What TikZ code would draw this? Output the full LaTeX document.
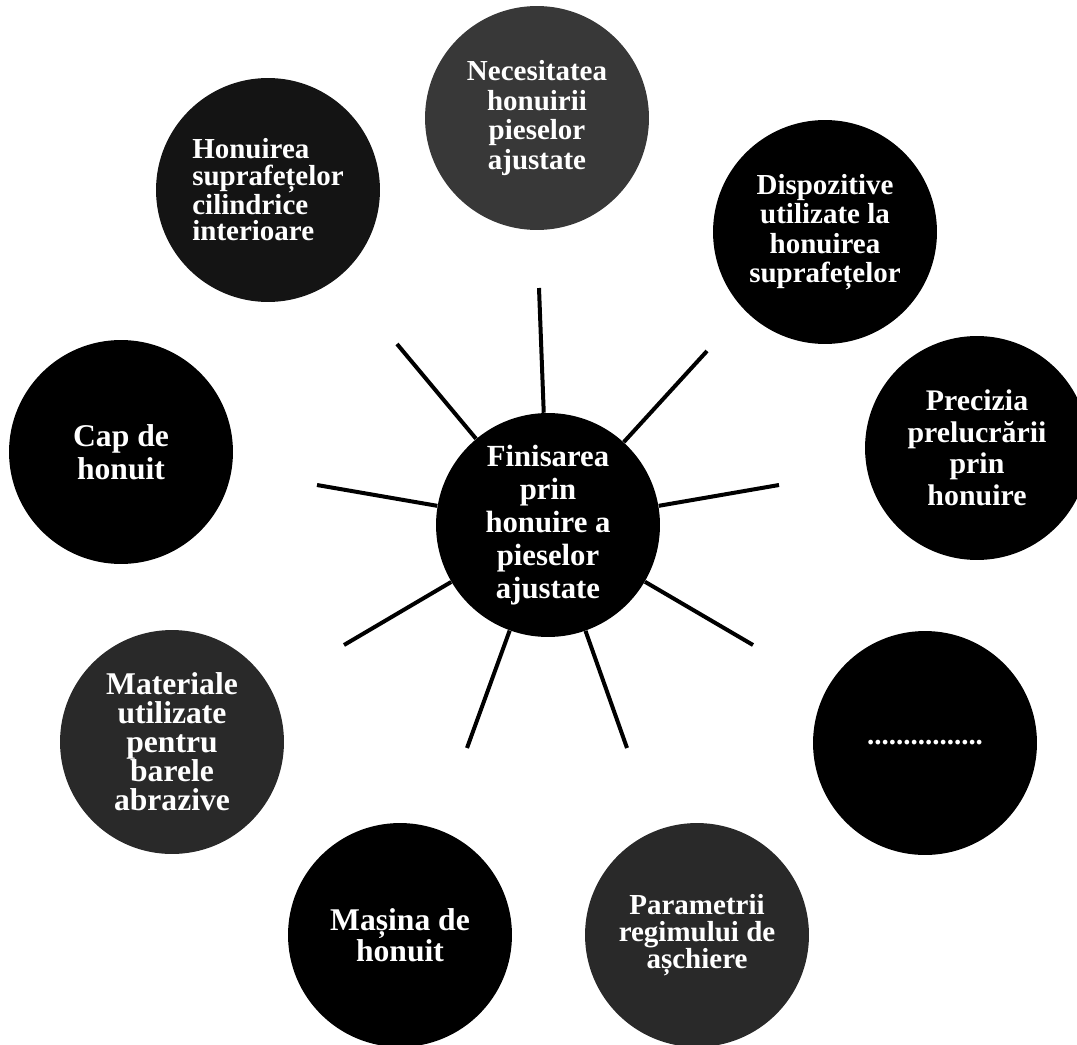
\documentclass[tikz,border=0pt]{standalone}
\usepackage{fontspec}
\setmainfont{Liberation Serif}
\tikzset{
  bubble/.style={circle, fill=black, text=white, minimum size=4.48cm, inner sep=0pt,
    align=center, font=\bfseries\fontsize{16.5}{16.8}\selectfont},
  ray/.style={line width=0.08cm},
}
\begin{document}
\begin{tikzpicture}[x=0.02cm, y=-0.02cm]
  \useasboundingbox (0,0) rectangle (1077,1044);

  \node [bubble, font=\bfseries\fontsize{17.5}{18.8}\selectfont] (c) at (548,525)
    {Finisarea\\prin\\honuire a\\pieselor\\ajustate};

  \node [bubble, fill=black!78] (1) at (537,118) {Necesitatea\\honuirii\\pieselor\\ajustate};
  \node [bubble, fill=black!92, align=left, font=\bfseries\fontsize{16.5}{15}\selectfont] (2) at (268,190)
    {Honuirea\\suprafețelor\\cilindrice\\interioare};
  \node [bubble] (3) at (825,232) {Dispozitive\\utilizate la\\honuirea\\suprafețelor};
  \node [bubble, font=\bfseries\fontsize{18}{18.5}\selectfont] (4) at (121,452) {Cap de\\honuit};
  \node [bubble, font=\bfseries\fontsize{17}{18}\selectfont] (5) at (977,448)
    {Precizia\\prelucrării\\prin\\honuire};
  \node [bubble, fill=black!84, font=\bfseries\fontsize{18}{16.5}\selectfont] (6) at (172,742)
    {Materiale\\utilizate\\pentru\\barele\\abrazive};
  \node [bubble] (7) at (925,743) {................};
  \node [bubble, font=\bfseries\fontsize{18}{17.5}\selectfont] (8) at (400,935) {Mașina de\\honuit};
  \node [bubble, fill=black!84, font=\bfseries\fontsize{16.5}{15.5}\selectfont] (9) at (697,935)
    {Parametrii\\regimului de\\așchiere};

  \coordinate (t1) at (539,288);
  \draw [ray] (c) to (t1);
  \coordinate (t2) at (397,344);
  \draw [ray] (c) to (t2);
  \coordinate (t3) at (707,351);
  \draw [ray] (c) to (t3);
  \coordinate (t4) at (317,485);
  \draw [ray] (c) to (t4);
  \coordinate (t5) at (779,485);
  \draw [ray] (c) to (t5);
  \coordinate (t6) at (344,645);
  \draw [ray] (c) to (t6);
  \coordinate (t7) at (753,645);
  \draw [ray] (c) to (t7);
  \coordinate (t8) at (467,748);
  \draw [ray] (c) to (t8);
  \coordinate (t9) at (627,748);
  \draw [ray] (c) to (t9);
\end{tikzpicture}
\end{document}
